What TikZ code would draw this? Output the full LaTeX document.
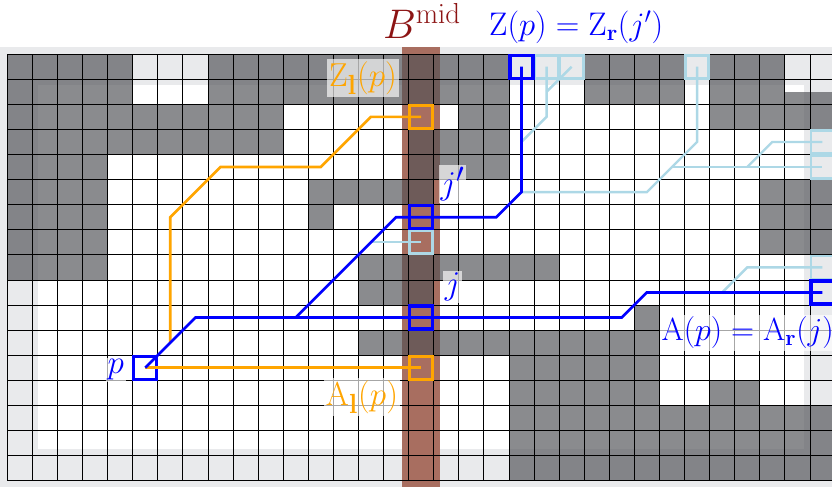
\RequirePackage{fix-cm}
\documentclass[tikz,border=0pt]{standalone}
\usepackage{amsmath}
\definecolor{lgframe}{RGB}{233,234,236}
\definecolor{darkcell}{RGB}{82,83,87}
\definecolor{stripc}{RGB}{168,110,96}
\definecolor{myorange}{RGB}{255,165,0}
\definecolor{mylightblue}{RGB}{173,216,230}
\definecolor{bmidred}{RGB}{140,20,20}
\begin{document}
\begin{tikzpicture}[x=18.81pt,y=-18.81pt,
  lab/.style={inner sep=1.5pt, fill=white, fill opacity=0.65, text opacity=1, font=\fontsize{24.88}{28}\selectfont},
  cellbox/.style={minimum size=17.3pt, inner sep=0pt, outer sep=0pt},
  bluebox/.style={cellbox, draw=blue, line width=2.5pt},
  orangebox/.style={cellbox, draw=myorange, line width=2.3pt},
  lbbox/.style={cellbox, draw=mylightblue, line width=2pt},
  bluepath/.style={draw=blue, line width=2pt},
  orangepath/.style={draw=myorange, line width=2pt},
  lbpath/.style={draw=mylightblue, line width=1.8pt},
  darkc/.style={fill=darkcell, fill opacity=0.67},
  gridline/.style={draw=black, line width=0.6pt}
]
\useasboundingbox (-0.29,-2.16) rectangle (32.88,17.42);
\clip (-0.29,-2.16) rectangle (32.88,17.42);

% background frame and interior
\fill[lgframe] (-0.29,-0.29) rectangle (33.5,17.26);
\fill[white] (1.22,1.23) rectangle (31.77,15.74);
% B^mid strip
\fill[stripc] (15.74,-0.29) rectangle (17.25,17.26);

% obstacle cells
\foreach \r/\a/\b in {0/0/4, 0/8/19, 0/23/26, 0/28/30,
  1/0/4, 1/8/19, 1/23/26, 1/28/30,
  2/0/10, 2/18/19, 2/28/32,
  3/0/10, 3/16/19,
  4/0/3, 4/16/19,
  5/0/3, 5/12/16, 5/30/32,
  6/0/3, 6/12/12, 6/30/32,
  7/0/3, 7/30/32,
  8/0/3, 8/14/21,
  9/14/16,
  10/25/25,
  11/14/25,
  12/20/25,
  13/20/25, 13/28/29,
  14/20/32, 15/20/32, 16/20/32}
  \fill[darkc] (\a,\r) rectangle (\b+1,\r+1);
\fill[darkc] (31,1.5) rectangle (33,2);

% grid
\foreach \i in {0,...,33} \draw[gridline] (\i,0) -- (\i,17);
\foreach \i in {0,...,17} \draw[gridline] (0,\i) -- (33,\i);

% boxes (nodes)
\node[lbbox] (lbA) at (16.5,7.5) {};
\node[lbbox] (lbB) at (21.5,0.5) {};
\node[lbbox] (lbC) at (22.5,0.5) {};
\node[lbbox] (lbD) at (27.5,0.5) {};
\node[lbbox] (lbE) at (32.5,3.5) {};
\node[lbbox] (lbF) at (32.5,4.5) {};
\node[lbbox] (lbG) at (32.5,8.5) {};
\node[orangebox] (Zl) at (16.5,2.5) {};
\node[orangebox] (Al) at (16.5,12.5) {};
\node[bluebox] (p) at (5.5,12.5) {};
\node[bluebox] (j) at (16.5,10.5) {};
\node[bluebox] (jp) at (16.5,6.5) {};
\node[bluebox] (Zp) at (20.5,0.5) {};
\node[bluebox] (Ap) at (32.5,9.5) {};

% branch coordinates
\coordinate (bA) at (14.5,7.5);
\coordinate (bB) at (20.5,5.5);
\coordinate (bC) at (26.5,4.5);
\coordinate (bD) at (29.5,4.5);
\coordinate (bE) at (20.5,3.5);
\coordinate (bF) at (21.5,1.5);
\coordinate (bG) at (28.5,9.5);
\coordinate (bH) at (11.5,10.5);
\coordinate (bI) at (6.5,11.5);

% light blue paths
\draw[lbpath] (bA) -- (lbA.center);
\draw[lbpath] (bB) -- (25.5,5.5) -- (27.5,3.5) -- (lbD.center);
\draw[lbpath] (bC) -- (lbF.center);
\draw[lbpath] (bD) -- (30.5,3.5) -- (lbE.center);
\draw[lbpath] (bE) -- (21.5,2.5) -- (lbB.center);
\draw[lbpath] (bF) -- (lbC.center);
\draw[lbpath] (bG) -- (29.5,8.5) -- (lbG.center);

% orange paths
\draw[orangepath] (p.center) -- (Al.center);
\draw[orangepath] (bI) -- (6.5,6.5) -- (8.5,4.5) -- (12.5,4.5) -- (14.5,2.5) -- (Zl.center);

% blue paths
\draw[bluepath] (p.center) -- (7.5,10.5) -- (j.center) -- (24.5,10.5) -- (25.5,9.5) -- (Ap.center);
\draw[bluepath] (bH) -- (15.5,6.5) -- (jp.center) -- (19.5,6.5) -- (20.5,5.5) -- (Zp.center);

% labels
\node[anchor=base west, inner sep=0pt, text=bmidred, font=\fontsize{31}{35}\selectfont] (bmid) at (14.97,-0.63) {$B^{\mathrm{mid}}$};
\node[anchor=base west, inner sep=0pt, text=blue, font=\fontsize{24.5}{28}\selectfont] (zplab) at (19.2,-0.76) {$\mathrm{Z}(p)=\mathrm{Z}_{\mathbf{r}}(j')$};
\node[lab, text=myorange] (zllab) at (14.18,0.95) {$\mathrm{Z}_{\mathbf{l}}(p)$};
\node[lab, text=myorange] (allab) at (14.14,13.67) {$\mathrm{A}_{\mathbf{l}}(p)$};
\node[lab, text=blue] (jplab) at (17.75,5.17) {$j'$};
\node[lab, text=blue] (jlab) at (17.75,9.28) {$j$};
\node[lab, text=blue] (plab) at (4.33,12.59) {$p$};
\node[lab, text=blue, anchor=west, font=\fontsize{24}{28}\selectfont] (aplab) at (26.0,11.1) {$\mathrm{A}(p)=\mathrm{A}_{\mathbf{r}}(j)$};
\end{tikzpicture}
\end{document}
